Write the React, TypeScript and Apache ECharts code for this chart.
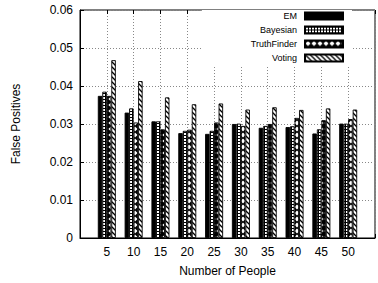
import React, { useEffect, useRef } from 'react';
import * as echarts from 'echarts';

const people = [5, 10, 15, 20, 25, 30, 35, 40, 45, 50];
const emValues = [0.0374, 0.0330, 0.0307, 0.0276, 0.0274, 0.0300, 0.0290, 0.0292, 0.0275, 0.0301];
const bayesianValues = [0.0385, 0.0341, 0.0307, 0.0282, 0.0282, 0.0301, 0.0295, 0.0294, 0.0286, 0.0301];
const truthFinderValues = [0.0374, 0.0304, 0.0286, 0.0285, 0.0304, 0.0295, 0.0300, 0.0316, 0.0310, 0.0313];
const votingValues = [0.0468, 0.0413, 0.0370, 0.0352, 0.0354, 0.0338, 0.0344, 0.0337, 0.0341, 0.0338];
const seriesNames = ['EM', 'Bayesian', 'TruthFinder', 'Voting'];

const FONT = '"Liberation Sans", Arial, Helvetica, sans-serif';

function makeTile(w: number, h: number, draw: (ctx: CanvasRenderingContext2D) => void): any {
  const c = document.createElement('canvas');
  c.width = w;
  c.height = h;
  const ctx = c.getContext('2d') as CanvasRenderingContext2D;
  draw(ctx);
  return { image: c.toDataURL(), repeat: 'repeat', imageWidth: w, imageHeight: h };
}

export default function App() {
  const ref = useRef<HTMLDivElement>(null);
  useEffect(() => {
    if (!ref.current) return;
    const chart = echarts.init(ref.current, null, { renderer: 'svg' });

    const bayesianFill = makeTile(3, 3, (ctx) => {
      ctx.fillStyle = '#000';
      ctx.fillRect(0, 0, 3, 3);
      ctx.fillStyle = '#fff';
      ctx.fillRect(1, 1, 2, 2);
    });
    const tfFill = makeTile(6, 6, (ctx) => {
      ctx.fillStyle = '#000';
      ctx.fillRect(0, 0, 6, 6);
      ctx.fillStyle = '#fff';
      ctx.beginPath();
      ctx.moveTo(3, 0.4);
      ctx.lineTo(5.6, 3);
      ctx.lineTo(3, 5.6);
      ctx.lineTo(0.4, 3);
      ctx.closePath();
      ctx.fill();
    });
    const votingFill = makeTile(5, 5, (ctx) => {
      ctx.fillStyle = '#fff';
      ctx.fillRect(0, 0, 5, 5);
      ctx.strokeStyle = '#000';
      ctx.lineWidth = 1.3;
      for (const off of [-5, 0, 5]) {
        ctx.beginPath();
        ctx.moveTo(off - 1, -1);
        ctx.lineTo(off + 6, 6);
        ctx.stroke();
      }
    });

    const fills: any[] = ['#000', bayesianFill, tfFill, votingFill];
    const values = [emValues, bayesianValues, truthFinderValues, votingValues];

    chart.setOption({
      animation: false,
      backgroundColor: '#fff',
      textStyle: { fontFamily: FONT },
      grid: { left: 80, right: -2.5, top: 10, bottom: 45, show: true, borderColor: '#000', borderWidth: 1 },
      legend: {
        data: seriesNames,
        orient: 'vertical',
        align: 'right',
        right: 26,
        top: 10,
        padding: [1, 8, 2, 49],
        backgroundColor: '#fff',
        itemWidth: 38,
        itemHeight: 7,
        itemGap: 4,
        icon: 'rect',
        textStyle: { fontSize: 9, fontFamily: FONT, color: '#000', lineHeight: 10, padding: [0, 3, 0, 0] },
      },
      xAxis: [
        {
          type: 'value',
          min: 0,
          max: 55,
          interval: 5,
          name: 'Number of People',
          nameLocation: 'middle',
          nameGap: 27,
          nameTextStyle: { fontSize: 12, color: '#000', fontFamily: FONT },
          axisLine: { show: true, lineStyle: { color: '#000', width: 1 } },
          axisTick: { show: true, inside: true, length: 4, lineStyle: { color: '#000' } },
          axisLabel: {
            fontSize: 12,
            color: '#000',
            margin: 8,
            fontFamily: FONT,
            formatter: (v: number) => (people.indexOf(v) >= 0 ? String(v) : ''),
          },
          splitLine: { show: true, lineStyle: { color: '#888', type: [1, 2], width: 1 } },
        },
        {
          type: 'value',
          position: 'top',
          min: 0,
          max: 55,
          interval: 5,
          axisLine: { show: false },
          axisTick: { show: true, inside: true, length: 4, lineStyle: { color: '#000' } },
          axisLabel: { show: false },
          splitLine: { show: false },
        },
      ],
      yAxis: {
        type: 'value',
        min: 0,
        max: 0.06,
        interval: 0.01,
        name: 'False Positives',
        nameLocation: 'middle',
        nameGap: 58,
        nameTextStyle: { fontSize: 12, color: '#000', fontFamily: FONT },
        axisLine: { show: true, lineStyle: { color: '#000', width: 1 } },
        axisTick: { show: true, inside: true, length: 4, lineStyle: { color: '#000' } },
        axisLabel: {
          fontSize: 12,
          color: '#000',
          margin: 7,
          fontFamily: FONT,
          formatter: (v: number) => (v === 0 ? '0' : v.toFixed(2)),
        },
        splitLine: { show: true, lineStyle: { color: '#888', type: [1, 2], width: 1 } },
      },
      series: seriesNames.map((name, si) => ({
        name,
        type: 'bar',
        xAxisIndex: 0,
        barWidth: 4.5,
        barGap: '0%',
        data: people.map((p, i) => [p, values[si][i]]),
        itemStyle: { color: fills[si], borderColor: '#000', borderWidth: 0.9 },
        emphasis: { disabled: true },
      })),
    });
    return () => chart.dispose();
  }, []);
  return <div ref={ref} style={{ position: 'fixed', left: 0, top: 0, width: 378, height: 283 }} />;
}
